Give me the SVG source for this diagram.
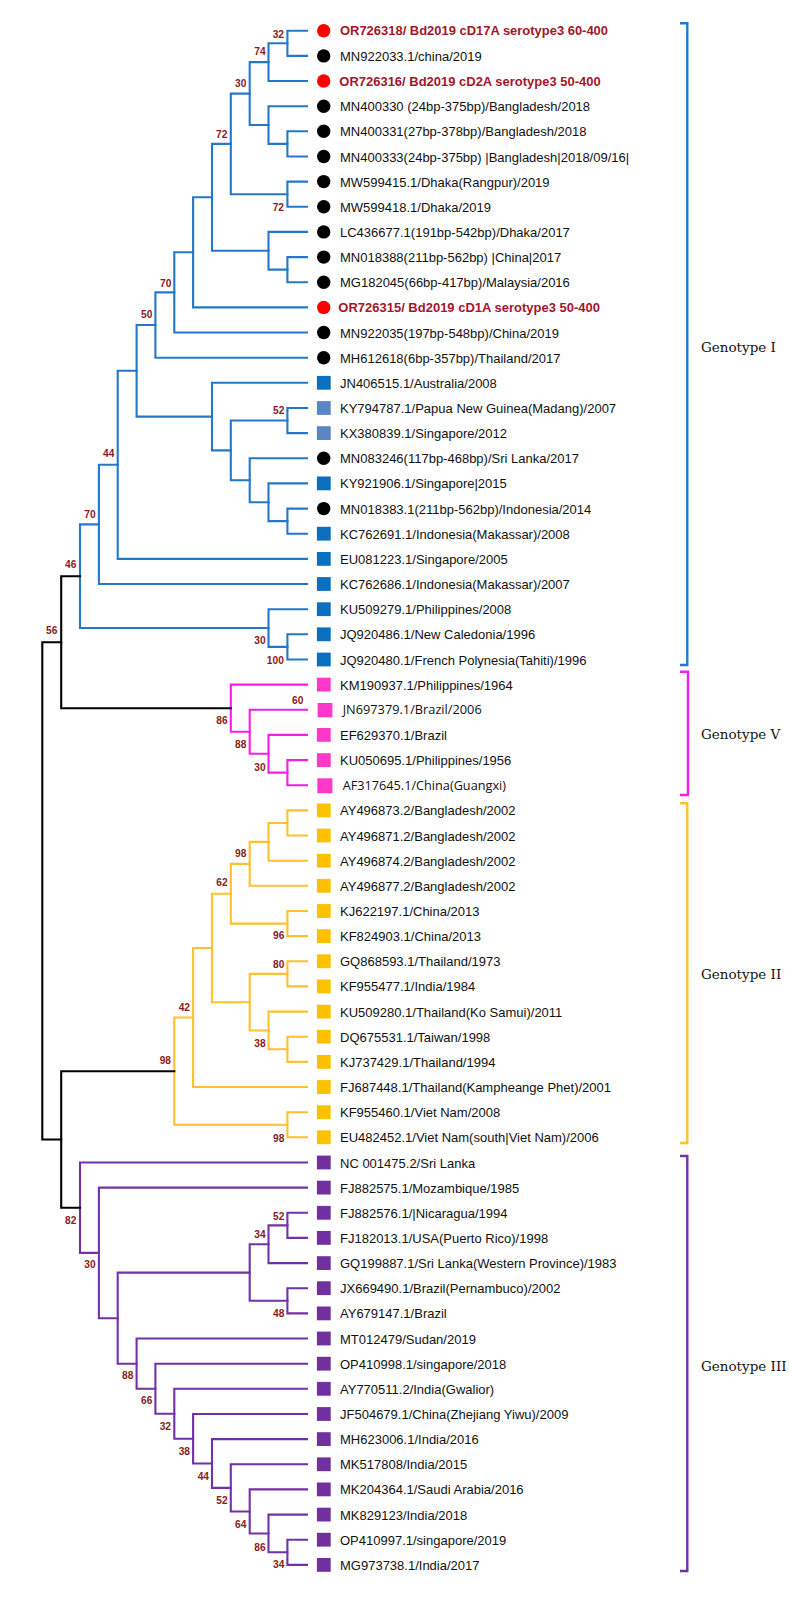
<svg xmlns="http://www.w3.org/2000/svg" width="790" height="1599" viewBox="0 0 790 1599">
<style>
.e{fill:none;stroke-width:2.1;stroke-linecap:square}
.bl{stroke:#2477c9}.mg{stroke:#f41ee8}.ye{stroke:#ffc12e}.pu{stroke:#7132a8}.bk{stroke:#000}
.t{font-family:"Liberation Sans",Arial,sans-serif;font-size:13px;fill:#111}
.r{font-family:"Liberation Sans",Arial,sans-serif;font-size:13px;font-weight:bold;fill:#a3162b}
.o{font-family:"Open Sans","Noto Sans",sans-serif;font-size:12.5px;fill:#111}
.b{font-family:"Liberation Sans",Arial,sans-serif;font-size:10.2px;font-weight:bold;fill:#8b1a1a;text-anchor:middle}
.g{font-family:"DejaVu Serif",serif;font-size:13.5px;fill:#111}
.cr{fill:#ff0000}.ck{fill:#000}.sb{fill:#0b6fc0}.sl{fill:#5b86c5}.sm{fill:#ff38cc}.sy{fill:#ffc000}.sp{fill:#7030a0}
.br{fill:none;stroke-width:2.4}
</style>
<g id="connectors">
<path class="e bl" d="M307 30.7H287.4V55.9H307"/>
<path class="e bl" d="M287.4 43.3H268.5V81H307"/>
<path class="e bl" d="M307 131.3H287.4V156.5H307"/>
<path class="e bl" d="M307 106.2H268.5V143.9H287.4"/>
<path class="e bl" d="M268.5 62.1H249.7V125H268.5"/>
<path class="e bl" d="M307 181.6H287.4V206.8H307"/>
<path class="e bl" d="M249.7 93.6H230.8V194.2H287.4"/>
<path class="e bl" d="M307 257.1H287.4V282.2H307"/>
<path class="e bl" d="M307 231.9H268.5V269.6H287.4"/>
<path class="e bl" d="M230.8 143.9H212V250.8H268.5"/>
<path class="e bl" d="M212 197.3H193.1V307.4H307"/>
<path class="e bl" d="M193.1 252.3H174.3V332.5H307"/>
<path class="e bl" d="M174.3 292.4H155.4V357.7H307"/>
<path class="e bl" d="M307 408H287.4V433.1H307"/>
<path class="e bl" d="M307 508.6H287.4V533.7H307"/>
<path class="e bl" d="M307 483.4H268.5V521.1H287.4"/>
<path class="e bl" d="M307 458.3H249.7V502.3H268.5"/>
<path class="e bl" d="M287.4 420.5H230.8V480.3H249.7"/>
<path class="e bl" d="M307 382.8H212V450.4H230.8"/>
<path class="e bl" d="M155.4 325H136.6V416.6H212"/>
<path class="e bl" d="M136.6 370.8H117.7V558.9H307"/>
<path class="e bl" d="M117.7 464.8H98.9V584H307"/>
<path class="e bl" d="M307 634.3H287.4V659.5H307"/>
<path class="e bl" d="M307 609.2H268.5V646.9H287.4"/>
<path class="e bl" d="M98.9 524.4H80V628H268.5"/>
<path class="e mg" d="M307 760.1H287.4V785.2H307"/>
<path class="e mg" d="M307 734.9H268.5V772.6H287.4"/>
<path class="e mg" d="M307 709.8H249.7V753.8H268.5"/>
<path class="e mg" d="M307 684.6H230.8V731.8H249.7"/>
<path class="e ye" d="M307 810.4H287.4V835.5H307"/>
<path class="e ye" d="M287.4 823H268.5V860.7H307"/>
<path class="e ye" d="M268.5 841.9H249.7V885.8H307"/>
<path class="e ye" d="M307 911H287.4V936.1H307"/>
<path class="e ye" d="M249.7 863.9H230.8V923.6H287.4"/>
<path class="e ye" d="M307 961.3H287.4V986.4H307"/>
<path class="e ye" d="M307 1036.7H287.4V1061.9H307"/>
<path class="e ye" d="M307 1011.6H268.5V1049.3H287.4"/>
<path class="e ye" d="M287.4 973.9H249.7V1030.5H268.5"/>
<path class="e ye" d="M230.8 893.8H212V1002.2H249.7"/>
<path class="e ye" d="M212 948H193.1V1087H307"/>
<path class="e ye" d="M307 1112.2H287.4V1137.3H307"/>
<path class="e ye" d="M193.1 1017.5H174.3V1124.8H287.4"/>
<path class="e pu" d="M307 1212.8H287.4V1237.9H307"/>
<path class="e pu" d="M287.4 1225.4H268.5V1263.1H307"/>
<path class="e pu" d="M307 1288.2H287.4V1313.4H307"/>
<path class="e pu" d="M268.5 1244.3H249.7V1300.8H287.4"/>
<path class="e pu" d="M307 1539.7H287.4V1564.9H307"/>
<path class="e pu" d="M307 1514.6H268.5V1552.3H287.4"/>
<path class="e pu" d="M307 1489.4H249.7V1533.5H268.5"/>
<path class="e pu" d="M307 1464.3H230.8V1511.5H249.7"/>
<path class="e pu" d="M307 1439.1H212V1487.9H230.8"/>
<path class="e pu" d="M307 1414H193.1V1463.5H212"/>
<path class="e pu" d="M307 1388.8H174.3V1438.8H193.1"/>
<path class="e pu" d="M307 1363.7H155.4V1413.8H174.3"/>
<path class="e pu" d="M307 1338.5H136.6V1388.8H155.4"/>
<path class="e pu" d="M249.7 1272.6H117.7V1363.7H136.6"/>
<path class="e pu" d="M307 1187.6H98.9V1318.2H117.7"/>
<path class="e pu" d="M307 1162.5H80V1252.9H98.9"/>
<path class="e bk" d="M80 576.2H61.2V708.2H230.8"/>
<path class="e bk" d="M174.3 1071.2H61.2V1207.7H80"/>
<path class="e bk" d="M61.2 642.2H42.3V1139.5H61.2"/>
</g>
<g id="support">
<text class="b" x="278.3" y="37.8">32</text>
<text class="b" x="260" y="55.2">74</text>
<text class="b" x="240.7" y="86.8">30</text>
<text class="b" x="221.7" y="137.8">72</text>
<text class="b" x="278.3" y="210.8">72</text>
<text class="b" x="165.7" y="286.8">70</text>
<text class="b" x="146.7" y="317.8">50</text>
<text class="b" x="278.7" y="413.5">52</text>
<text class="b" x="108.7" y="456.8">44</text>
<text class="b" x="90" y="517.5">70</text>
<text class="b" x="70.7" y="567.8">46</text>
<text class="b" x="51.7" y="634.2">56</text>
<text class="b" x="260" y="644.2">30</text>
<text class="b" x="275.3" y="663.8">100</text>
<text class="b" x="297.7" y="703.5">60</text>
<text class="b" x="222" y="724.2">86</text>
<text class="b" x="240.7" y="748.2">88</text>
<text class="b" x="260" y="771.2">30</text>
<text class="b" x="240.7" y="856.8">98</text>
<text class="b" x="222" y="886.2">62</text>
<text class="b" x="278.7" y="939.2">96</text>
<text class="b" x="278.7" y="967.8">80</text>
<text class="b" x="184.3" y="1010.5">42</text>
<text class="b" x="260" y="1046.8">38</text>
<text class="b" x="165.3" y="1063.5">98</text>
<text class="b" x="278.7" y="1141.8">98</text>
<text class="b" x="70.7" y="1224.2">82</text>
<text class="b" x="90" y="1268.2">30</text>
<text class="b" x="278.7" y="1219.5">52</text>
<text class="b" x="260" y="1237.8">34</text>
<text class="b" x="278.7" y="1317.2">48</text>
<text class="b" x="127.7" y="1379.2">88</text>
<text class="b" x="146.7" y="1403.5">66</text>
<text class="b" x="165.3" y="1430.2">32</text>
<text class="b" x="184.3" y="1455.2">38</text>
<text class="b" x="203.3" y="1479.5">44</text>
<text class="b" x="222" y="1503.5">52</text>
<text class="b" x="240.7" y="1527.8">64</text>
<text class="b" x="260" y="1550.8">86</text>
<text class="b" x="278.7" y="1567.8">34</text>
</g>
<g id="leaf-OR726318"><circle class="cr" cx="323.7" cy="30.7" r="6.7"/><text class="r" x="340" y="35.3" textLength="268" lengthAdjust="spacingAndGlyphs">OR726318/ Bd2019 cD17A serotype3 60-400</text></g>
<g id="leaf-MN922033"><circle class="ck" cx="323.7" cy="55.9" r="6.7"/><text class="t" x="340" y="60.9">MN922033.1/china/2019</text></g>
<g id="leaf-OR726316"><circle class="cr" cx="323.7" cy="81" r="6.7"/><text class="r" x="339.3" y="85.6" textLength="261.4" lengthAdjust="spacingAndGlyphs">OR726316/ Bd2019 cD2A serotype3 50-400</text></g>
<g id="leaf-MN400330"><circle class="ck" cx="323.7" cy="106.2" r="6.7"/><text class="t" x="340" y="111.2">MN400330 (24bp-375bp)/Bangladesh/2018</text></g>
<g id="leaf-MN400331"><circle class="ck" cx="323.7" cy="131.3" r="6.7"/><text class="t" x="340" y="136.3">MN400331(27bp-378bp)/Bangladesh/2018</text></g>
<g id="leaf-MN400333"><circle class="ck" cx="323.7" cy="156.5" r="6.7"/><text class="t" x="340" y="161.5">MN400333(24bp-375bp) |Bangladesh|2018/09/16|</text></g>
<g id="leaf-MW599415"><circle class="ck" cx="323.7" cy="181.6" r="6.7"/><text class="t" x="340" y="186.6">MW599415.1/Dhaka(Rangpur)/2019</text></g>
<g id="leaf-MW599418"><circle class="ck" cx="323.7" cy="206.8" r="6.7"/><text class="t" x="340" y="211.8">MW599418.1/Dhaka/2019</text></g>
<g id="leaf-LC436677"><circle class="ck" cx="323.7" cy="231.9" r="6.7"/><text class="t" x="340" y="236.9">LC436677.1(191bp-542bp)/Dhaka/2017</text></g>
<g id="leaf-MN018388"><circle class="ck" cx="323.7" cy="257.1" r="6.7"/><text class="t" x="340" y="262.1">MN018388(211bp-562bp) |China|2017</text></g>
<g id="leaf-MG182045"><circle class="ck" cx="323.7" cy="282.2" r="6.7"/><text class="t" x="340" y="287.2">MG182045(66bp-417bp)/Malaysia/2016</text></g>
<g id="leaf-OR726315"><circle class="cr" cx="323.7" cy="307.4" r="6.7"/><text class="r" x="338.3" y="312" textLength="261.7" lengthAdjust="spacingAndGlyphs">OR726315/ Bd2019 cD1A serotype3 50-400</text></g>
<g id="leaf-MN922035"><circle class="ck" cx="323.7" cy="332.5" r="6.7"/><text class="t" x="340" y="337.5">MN922035(197bp-548bp)/China/2019</text></g>
<g id="leaf-MH612618"><circle class="ck" cx="323.7" cy="357.7" r="6.7"/><text class="t" x="340" y="362.7">MH612618(6bp-357bp)/Thailand/2017</text></g>
<g id="leaf-JN406515"><rect class="sb" x="316.9" y="375.9" width="13.8" height="13.8"/><text class="t" x="340" y="387.8">JN406515.1/Australia/2008</text></g>
<g id="leaf-KY794787"><rect class="sl" x="316.9" y="401.1" width="13.8" height="13.8"/><text class="t" x="340" y="413">KY794787.1/Papua New Guinea(Madang)/2007</text></g>
<g id="leaf-KX380839"><rect class="sl" x="316.9" y="426.2" width="13.8" height="13.8"/><text class="t" x="340" y="438.1">KX380839.1/Singapore/2012</text></g>
<g id="leaf-MN083246"><circle class="ck" cx="323.7" cy="458.3" r="6.7"/><text class="t" x="340" y="463.3">MN083246(117bp-468bp)/Sri Lanka/2017</text></g>
<g id="leaf-KY921906"><rect class="sb" x="316.9" y="476.5" width="13.8" height="13.8"/><text class="t" x="340" y="488.4">KY921906.1/Singapore|2015</text></g>
<g id="leaf-MN018383"><circle class="ck" cx="323.7" cy="508.6" r="6.7"/><text class="t" x="340" y="513.6">MN018383.1(211bp-562bp)/Indonesia/2014</text></g>
<g id="leaf-KC762691"><rect class="sb" x="316.9" y="526.8" width="13.8" height="13.8"/><text class="t" x="340" y="538.7">KC762691.1/Indonesia(Makassar)/2008</text></g>
<g id="leaf-EU081223"><rect class="sb" x="316.9" y="552" width="13.8" height="13.8"/><text class="t" x="340" y="563.9">EU081223.1/Singapore/2005</text></g>
<g id="leaf-KC762686"><rect class="sb" x="316.9" y="577.1" width="13.8" height="13.8"/><text class="t" x="340" y="589">KC762686.1/Indonesia(Makassar)/2007</text></g>
<g id="leaf-KU509279"><rect class="sb" x="316.9" y="602.3" width="13.8" height="13.8"/><text class="t" x="340" y="614.2">KU509279.1/Philippines/2008</text></g>
<g id="leaf-JQ920486"><rect class="sb" x="316.9" y="627.4" width="13.8" height="13.8"/><text class="t" x="340" y="639.3">JQ920486.1/New Caledonia/1996</text></g>
<g id="leaf-JQ920480"><rect class="sb" x="316.9" y="652.6" width="13.8" height="13.8"/><text class="t" x="340" y="664.5">JQ920480.1/French Polynesia(Tahiti)/1996</text></g>
<g id="leaf-KM190937"><rect class="sm" x="316.9" y="677.7" width="13.8" height="13.8"/><text class="t" x="340" y="689.6">KM190937.1/Philippines/1964</text></g>
<g id="leaf-JN697379"><rect class="sm" x="317.6" y="703" width="14.8" height="14.3"/><text class="o" x="342.7" y="714.3" textLength="139" lengthAdjust="spacingAndGlyphs">JN697379.1/Brazil/2006</text></g>
<g id="leaf-EF629370"><rect class="sm" x="316.9" y="728" width="13.8" height="13.8"/><text class="t" x="340" y="739.9">EF629370.1/Brazil</text></g>
<g id="leaf-KU050695"><rect class="sm" x="316.9" y="753.2" width="13.8" height="13.8"/><text class="t" x="340" y="765.1">KU050695.1/Philippines/1956</text></g>
<g id="leaf-AF317645"><rect class="sm" x="317.4" y="778.3" width="15" height="15"/><text class="o" x="342.7" y="789.8" textLength="163.3" lengthAdjust="spacingAndGlyphs">AF317645.1/China(Guangxi)</text></g>
<g id="leaf-AY496873"><rect class="sy" x="316.9" y="803.5" width="13.8" height="13.8"/><text class="t" x="340" y="815.4">AY496873.2/Bangladesh/2002</text></g>
<g id="leaf-AY496871"><rect class="sy" x="316.9" y="828.6" width="13.8" height="13.8"/><text class="t" x="340" y="840.5">AY496871.2/Bangladesh/2002</text></g>
<g id="leaf-AY496874"><rect class="sy" x="316.9" y="853.8" width="13.8" height="13.8"/><text class="t" x="340" y="865.7">AY496874.2/Bangladesh/2002</text></g>
<g id="leaf-AY496877"><rect class="sy" x="316.9" y="878.9" width="13.8" height="13.8"/><text class="t" x="340" y="890.8">AY496877.2/Bangladesh/2002</text></g>
<g id="leaf-KJ622197"><rect class="sy" x="316.9" y="904.1" width="13.8" height="13.8"/><text class="t" x="340" y="916">KJ622197.1/China/2013</text></g>
<g id="leaf-KF824903"><rect class="sy" x="316.9" y="929.2" width="13.8" height="13.8"/><text class="t" x="340" y="941.1">KF824903.1/China/2013</text></g>
<g id="leaf-GQ868593"><rect class="sy" x="316.9" y="954.4" width="13.8" height="13.8"/><text class="t" x="340" y="966.3">GQ868593.1/Thailand/1973</text></g>
<g id="leaf-KF955477"><rect class="sy" x="316.9" y="979.5" width="13.8" height="13.8"/><text class="t" x="340" y="991.4">KF955477.1/India/1984</text></g>
<g id="leaf-KU509280"><rect class="sy" x="316.9" y="1004.7" width="13.8" height="13.8"/><text class="t" x="340" y="1016.6">KU509280.1/Thailand(Ko Samui)/2011</text></g>
<g id="leaf-DQ675531"><rect class="sy" x="316.9" y="1029.8" width="13.8" height="13.8"/><text class="t" x="340" y="1041.7">DQ675531.1/Taiwan/1998</text></g>
<g id="leaf-KJ737429"><rect class="sy" x="316.9" y="1055" width="13.8" height="13.8"/><text class="t" x="340" y="1066.9">KJ737429.1/Thailand/1994</text></g>
<g id="leaf-FJ687448"><rect class="sy" x="316.9" y="1080.1" width="13.8" height="13.8"/><text class="t" x="340" y="1092">FJ687448.1/Thailand(Kampheange Phet)/2001</text></g>
<g id="leaf-KF955460"><rect class="sy" x="316.9" y="1105.3" width="13.8" height="13.8"/><text class="t" x="340" y="1117.2">KF955460.1/Viet Nam/2008</text></g>
<g id="leaf-EU482452"><rect class="sy" x="316.9" y="1130.4" width="13.8" height="13.8"/><text class="t" x="340" y="1142.3">EU482452.1/Viet Nam(south|Viet Nam)/2006</text></g>
<g id="leaf-NC001475"><rect class="sp" x="316.9" y="1155.6" width="13.8" height="13.8"/><text class="t" x="340" y="1167.5">NC 001475.2/Sri Lanka</text></g>
<g id="leaf-FJ882575"><rect class="sp" x="316.9" y="1180.7" width="13.8" height="13.8"/><text class="t" x="340" y="1192.6">FJ882575.1/Mozambique/1985</text></g>
<g id="leaf-FJ882576"><rect class="sp" x="316.9" y="1205.9" width="13.8" height="13.8"/><text class="t" x="340" y="1217.8">FJ882576.1/|Nicaragua/1994</text></g>
<g id="leaf-FJ182013"><rect class="sp" x="316.9" y="1231" width="13.8" height="13.8"/><text class="t" x="340" y="1242.9">FJ182013.1/USA(Puerto Rico)/1998</text></g>
<g id="leaf-GQ199887"><rect class="sp" x="316.9" y="1256.2" width="13.8" height="13.8"/><text class="t" x="340" y="1268.1">GQ199887.1/Sri Lanka(Western Province)/1983</text></g>
<g id="leaf-JX669490"><rect class="sp" x="316.9" y="1281.3" width="13.8" height="13.8"/><text class="t" x="340" y="1293.2">JX669490.1/Brazil(Pernambuco)/2002</text></g>
<g id="leaf-AY679147"><rect class="sp" x="316.9" y="1306.5" width="13.8" height="13.8"/><text class="t" x="340" y="1318.4">AY679147.1/Brazil</text></g>
<g id="leaf-MT012479"><rect class="sp" x="316.9" y="1331.6" width="13.8" height="13.8"/><text class="t" x="340" y="1343.5">MT012479/Sudan/2019</text></g>
<g id="leaf-OP410998"><rect class="sp" x="316.9" y="1356.8" width="13.8" height="13.8"/><text class="t" x="340" y="1368.7">OP410998.1/singapore/2018</text></g>
<g id="leaf-AY770511"><rect class="sp" x="316.9" y="1381.9" width="13.8" height="13.8"/><text class="t" x="340" y="1393.8">AY770511.2/India(Gwalior)</text></g>
<g id="leaf-JF504679"><rect class="sp" x="316.9" y="1407.1" width="13.8" height="13.8"/><text class="t" x="340" y="1419">JF504679.1/China(Zhejiang Yiwu)/2009</text></g>
<g id="leaf-MH623006"><rect class="sp" x="316.9" y="1432.2" width="13.8" height="13.8"/><text class="t" x="340" y="1444.1">MH623006.1/India/2016</text></g>
<g id="leaf-MK517808"><rect class="sp" x="316.9" y="1457.4" width="13.8" height="13.8"/><text class="t" x="340" y="1469.3">MK517808/India/2015</text></g>
<g id="leaf-MK204364"><rect class="sp" x="316.9" y="1482.5" width="13.8" height="13.8"/><text class="t" x="340" y="1494.4">MK204364.1/Saudi Arabia/2016</text></g>
<g id="leaf-MK829123"><rect class="sp" x="316.9" y="1507.7" width="13.8" height="13.8"/><text class="t" x="340" y="1519.6">MK829123/India/2018</text></g>
<g id="leaf-OP410997"><rect class="sp" x="316.9" y="1532.8" width="13.8" height="13.8"/><text class="t" x="340" y="1544.7">OP410997.1/singapore/2019</text></g>
<g id="leaf-MG973738"><rect class="sp" x="316.9" y="1558" width="13.8" height="13.8"/><text class="t" x="340" y="1569.9">MG973738.1/India/2017</text></g>
<g id="genotype-I"><path class="br bl" d="M680 23.3H687.3V665H680"/><text class="g" x="701" y="352.3">Genotype I</text></g>
<g id="genotype-V"><path class="br mg" d="M680 671.7H688V795H680"/><text class="g" x="701" y="739">Genotype V</text></g>
<g id="genotype-II"><path class="br ye" d="M680 803.3H687.3V1143H680"/><text class="g" x="701" y="979">Genotype II</text></g>
<g id="genotype-III"><path class="br pu" d="M680 1156H687.3V1571H680"/><text class="g" x="701" y="1370.7">Genotype III</text></g>
</svg>
